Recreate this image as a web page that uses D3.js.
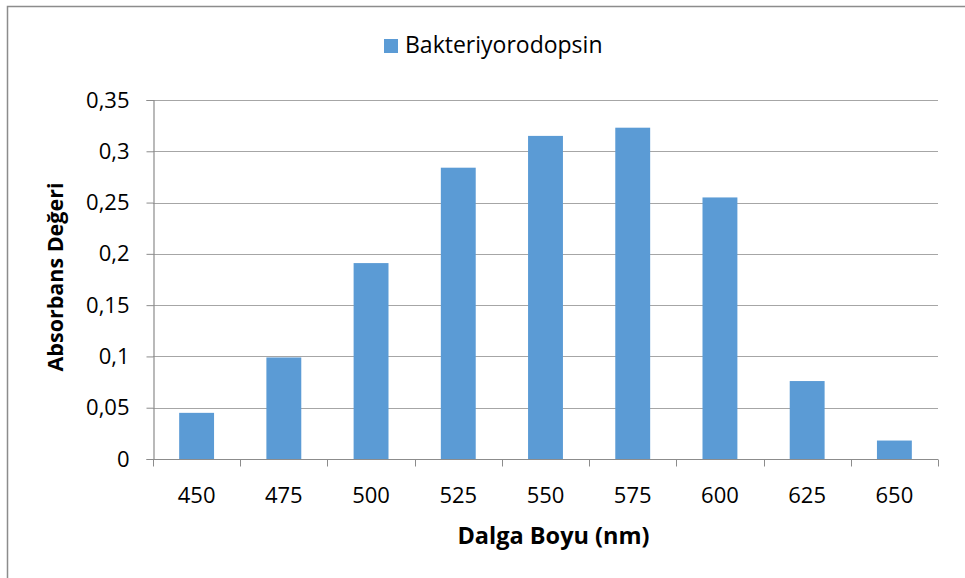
<!DOCTYPE html>
<html>
<head>
<meta charset="utf-8">
<script src="https://cdn.jsdelivr.net/npm/d3@7"></script>
<style>
  body { margin: 0; background: #fff; }
  svg { font-family: "Open Sans", Lato, sans-serif; }
</style>
</head>
<body>
<div id="chart"></div>
<script>
var canvasWidth = 965;
var canvasHeight = 578;

/*Chart data*/
var wavelengths = ["450","475","500","525","550","575","600","625","650"];
var absorbance = [0.045, 0.099, 0.191, 0.284, 0.315, 0.323, 0.255, 0.076, 0.018];
var yTicks = [0, 0.05, 0.1, 0.15, 0.2, 0.25, 0.3, 0.35];
var seriesName = "Bakteriyorodopsin";

var svg = d3.select("#chart")
    .append("svg")
    .attr("width", canvasWidth)
    .attr("height", canvasHeight);

/*Outer frame*/
svg.append("rect")
    .attr("x", 7.5).attr("y", 6.5)
    .attr("width", canvasWidth + 20).attr("height", canvasHeight + 20)
    .attr("fill", "none")
    .attr("stroke", "#8c8c8c")
    .attr("stroke-width", 1.5);

/*Plot area bounds*/
var plotL = 153, plotR = 938, plotT = 100, plotB = 459;

var xScale = d3.scaleBand().domain(wavelengths).range([plotL, plotR]).paddingInner(0.6).paddingOuter(0.3);
var xEdges = d3.scaleLinear().domain([0, wavelengths.length]).range([plotL, plotR]);
var yScale = d3.scaleLinear().domain([0, 0.35]).range([plotB, plotT]);

/*Gridlines*/
svg.append("g")
    .selectAll("line")
    .data(yTicks)
    .join("line")
    .attr("x1", plotL).attr("x2", plotR)
    .attr("y1", d => Math.round(yScale(d)) + 0.5)
    .attr("y2", d => Math.round(yScale(d)) + 0.5)
    .attr("stroke", "#a6a6a6")
    .attr("stroke-width", 1.2);

/*Bars*/
svg.append("g")
    .selectAll("rect")
    .data(absorbance)
    .join("rect")
    .attr("x", (d, i) => xScale(wavelengths[i]))
    .attr("y", d => yScale(d))
    .attr("width", xScale.bandwidth())
    .attr("height", d => plotB - yScale(d))
    .attr("fill", "#5b9bd5");

/*Y axis*/
var yAxis = svg.append("g")
    .attr("transform", "translate(" + (plotL + 0.5) + ",0)")
    .call(d3.axisLeft(yScale).tickValues(yTicks).tickSize(7).tickPadding(17)
        .tickFormat(d => String(d).replace(".", ",")));
yAxis.select(".domain").attr("stroke", "#8c8c8c").attr("stroke-width", 1.2);
yAxis.selectAll(".tick line").attr("stroke", "#8c8c8c");
yAxis.selectAll("text").attr("font-size", 22).attr("fill", "#000")
    .style("font-family", "'Open Sans', sans-serif");

/*X axis*/
var xAxis = svg.append("g")
    .attr("transform", "translate(0," + (plotB + 0.5) + ")");
xAxis.append("line")
    .attr("x1", plotL).attr("x2", plotR)
    .attr("stroke", "#8c8c8c").attr("stroke-width", 1.2);
xAxis.selectAll(".xtick")
    .data(d3.range(wavelengths.length + 1))
    .join("line")
    .attr("x1", d => Math.round(xEdges(d)) + 0.5)
    .attr("x2", d => Math.round(xEdges(d)) + 0.5)
    .attr("y1", 0).attr("y2", 7)
    .attr("stroke", "#8c8c8c");
xAxis.selectAll("text")
    .data(wavelengths)
    .join("text")
    .attr("x", d => xScale(d) + xScale.bandwidth() / 2)
    .attr("y", 43)
    .attr("text-anchor", "middle")
    .attr("font-size", 22)
    .text(d => d);

/*Axis titles*/
svg.append("text")
    .attr("x", (plotL + plotR) / 2 + 8)
    .attr("y", 544)
    .attr("text-anchor", "middle")
    .attr("font-size", 23.5)
    .attr("font-weight", "bold")
    .text("Dalga Boyu (nm)");

svg.append("text")
    .attr("transform", "translate(63," + 277 + ") rotate(-90)")
    .attr("text-anchor", "middle")
    .attr("font-size", 21.5)
    .attr("font-weight", "bold")
    .text("Absorbans Değeri");

/*Legend*/
var legend = svg.append("g").attr("transform", "translate(384,39)");
legend.append("rect")
    .attr("width", 14).attr("height", 14)
    .attr("fill", "#5b9bd5");
legend.append("text")
    .attr("x", 21).attr("y", 14)
    .attr("font-size", 23)
    .text(seriesName);
</script>
</body>
</html>
